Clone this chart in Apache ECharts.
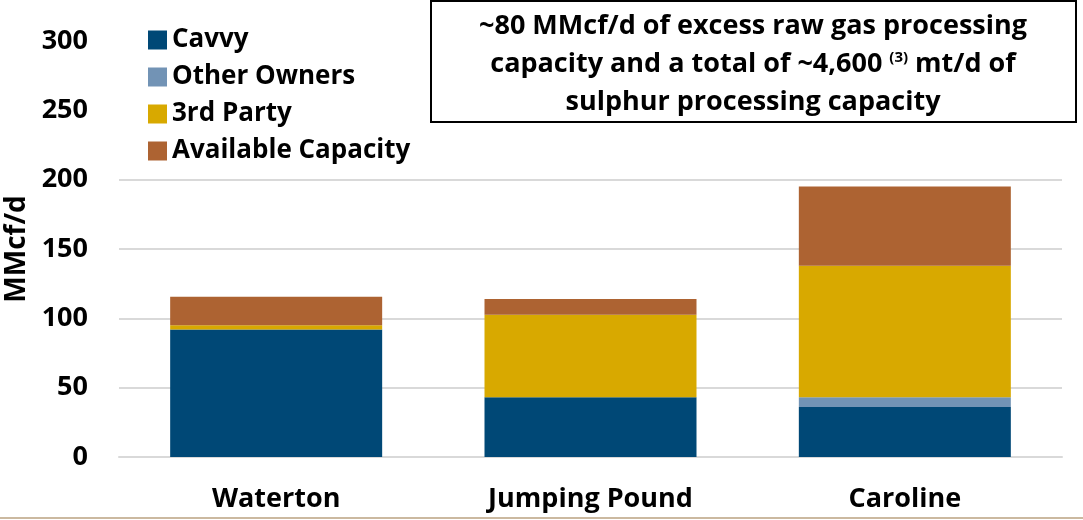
<!DOCTYPE html>
<html>
<head>
<meta charset="utf-8">
<script src="https://cdn.jsdelivr.net/npm/echarts@6/dist/echarts.min.js"></script>
<style>
  html, body { margin: 0; padding: 0; background: #fff; }
  #main { width: 1083px; height: 520px; }
</style>
</head>
<body>
<div id="main"></div>
<script>
var categories = ['Waterton', 'Jumping Pound', 'Caroline'];
var cavvy = [92, 43, 36];
var otherOwners = [0, 0, 7];
var thirdParty = [3, 59.5, 95];
var availableCapacity = [20.5, 11.5, 57];
var yTicks = [0, 50, 100, 150, 200, 250, 300];

var FONT = 'Open Sans';
var chart = echarts.init(document.getElementById('main'));

function bar(name, data, color) {
  return {
    name: name,
    type: 'bar',
    stack: 'total',
    barWidth: 212,
    data: data,
    itemStyle: { color: color }
  };
}

// gridlines at 250 and 300 sit behind the legend / note box in the original
var gridColors = ['#d9d9d9', '#d9d9d9', '#d9d9d9', '#d9d9d9', '#d9d9d9', 'rgba(0,0,0,0)', 'rgba(0,0,0,0)'];

var option = {
  animation: false,
  textStyle: { fontFamily: FONT },
  grid: { left: 119, right: 21, top: 41, bottom: 63, containLabel: false, outerBoundsMode: 'none' },
  legend: {
    orient: 'vertical',
    left: 143,
    top: 22,
    itemWidth: 19,
    itemHeight: 19,
    itemGap: 11,
    icon: 'rect',
    textStyle: { fontSize: 26, fontWeight: 'bold', color: '#000', fontFamily: FONT },
    data: ['Cavvy', 'Other Owners', '3rd Party', 'Available Capacity']
  },
  xAxis: {
    type: 'category',
    data: categories,
    axisTick: { show: false },
    axisLine: { lineStyle: { color: '#d9d9d9', width: 2 } },
    axisLabel: { margin: 29, fontSize: 27, fontWeight: 'bold', color: '#000' }
  },
  yAxis: {
    type: 'value',
    min: yTicks[0],
    max: yTicks[yTicks.length - 1],
    interval: yTicks[1] - yTicks[0],
    name: 'MMcf/d',
    nameLocation: 'middle',
    nameGap: 78,
    nameTextStyle: { fontSize: 28, fontWeight: 'bold', color: '#000' },
    axisLine: { show: false },
    axisTick: { show: false },
    axisLabel: { margin: 31, fontSize: 27, fontWeight: 'bold', color: '#000' },
    splitLine: { lineStyle: { color: gridColors, width: 2 } }
  },
  graphic: [
    {
      type: 'rect',
      z: 100,
      shape: { x: 431, y: 1, width: 645, height: 121 },
      style: { fill: '#fff', stroke: '#000', lineWidth: 2 }
    },
    {
      type: 'text',
      z: 101,
      x: 753,
      y: 7,
      style: {
        text: '~80 MMcf/d of excess raw gas processing\ncapacity and a total of ~4,600 {sup|(3)} mt/d of\nsulphur processing capacity',
        align: 'center',
        fontFamily: FONT,
        fontSize: 27,
        fontWeight: 'bold',
        lineHeight: 38,
        fill: '#000',
        rich: {
          sup: { fontSize: 15, fontWeight: 'bold', fontFamily: FONT, padding: [0, 0, 12, 0] }
        }
      }
    },
    {
      type: 'line',
      shape: { x1: 0, y1: 518, x2: 1083, y2: 518 },
      style: { stroke: '#cbb9a0', lineWidth: 2 }
    }
  ],
  series: [
    bar('Cavvy', cavvy, '#004876'),
    bar('Other Owners', otherOwners, '#7293b5'),
    bar('3rd Party', thirdParty, '#d8a900'),
    bar('Available Capacity', availableCapacity, '#ad6332')
  ]
};

chart.setOption(option);
</script>
</body>
</html>
